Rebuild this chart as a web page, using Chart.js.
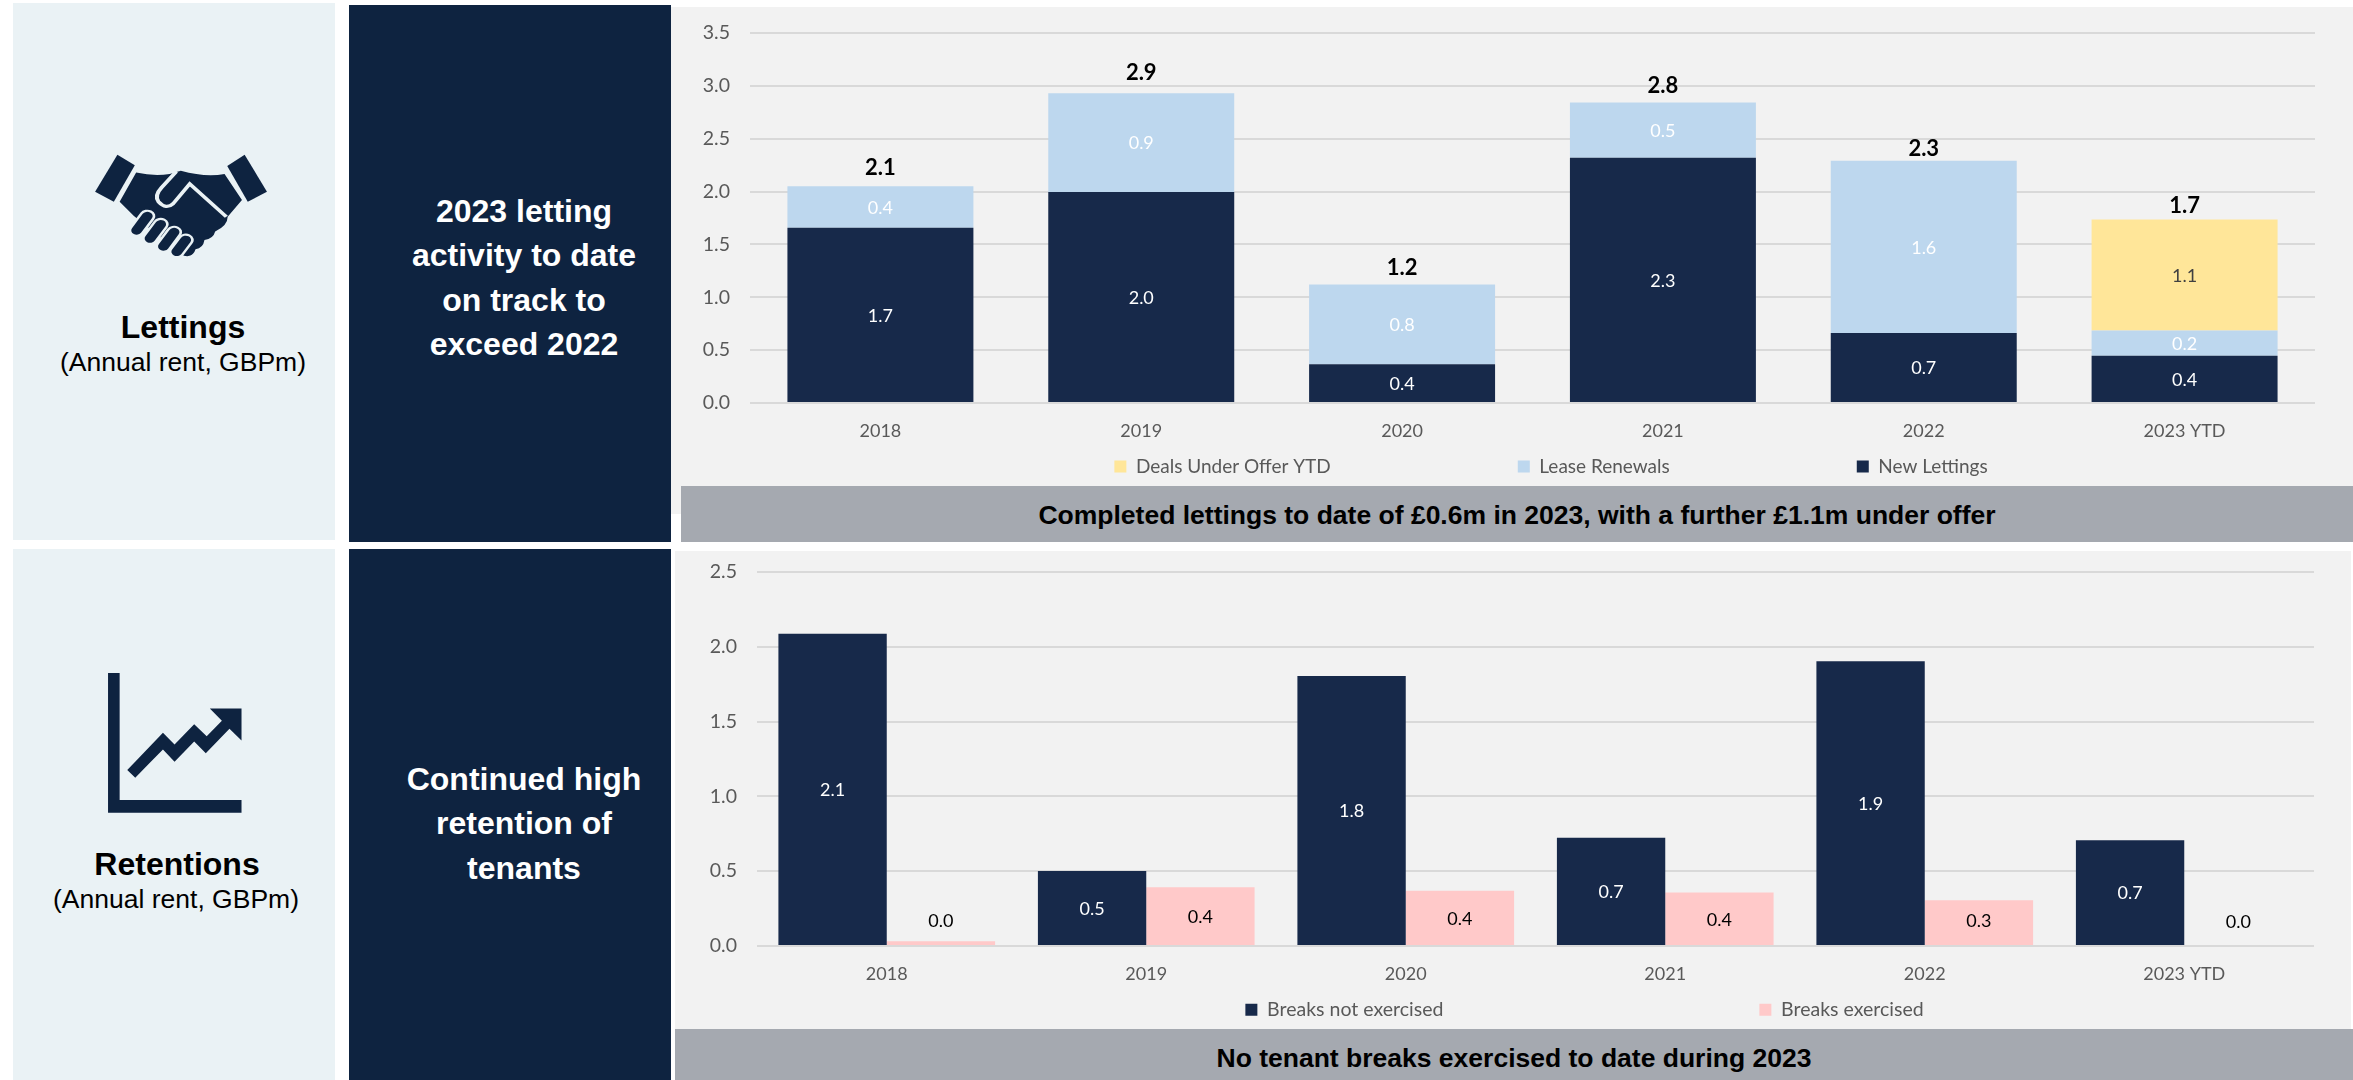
<!DOCTYPE html>
<html>
<head>
<meta charset="utf-8">
<title>Lettings and retentions</title>
<script src="https://cdn.jsdelivr.net/npm/chart.js@4"></script>
<style>
    html, body { margin: 0; background: #fff; }
    body { position: relative; width: 2353px; height: 1080px; overflow: hidden; font-family: "Liberation Sans", Arial, sans-serif; }
    .box { position: absolute; }
    .side { background: #eaf2f5; left: 13px; width: 322px; }
    .dark { background: #0e2340; left: 349px; width: 322px; }
    .plotbg { background: #f2f2f2; }
    .strip { background: #a5a9b0; color: #000; font-weight: bold; font-size: 26.5px; text-align: center; }
    .line { position: absolute; white-space: nowrap; transform: translate(-50%, -50%); }
    .big { font-size: 32px; font-weight: bold; }
    .sub { font-size: 26.5px; }
    .msg { font-size: 32px; font-weight: bold; color: #fff; }
    canvas { position: absolute; }
    svg { position: absolute; }
</style>
</head>
<body>
    <div class="box side" style="top:3px;height:537px"></div>
    <div class="box dark" style="top:5px;height:537px"></div>
    <div class="box plotbg" style="left:671px;top:7px;width:1682px;height:507px"></div>

    <div class="box side" style="top:549px;height:531px"></div>
    <div class="box dark" style="top:549px;height:531px"></div>
    <div class="box plotbg" style="left:675px;top:551px;width:1676px;height:529px"></div>

    <!-- handshake icon -->
    <svg style="left:0;top:0" width="700" height="560" viewBox="0 0 1568 1568" preserveAspectRatio="none">
        <g fill="#0e2340">
            <polygon points="263,433 302,463 255,565 213,537"/>
            <polygon points="548,433 598,537 555,565 509,465"/>
            <path d="M305,483 Q345,494 380,487 L405,478 Q460,497 503,487 L542,560 L510,607 Q510,632 482,648 Q478,668 458,672 Q455,695 438,698 Q432,722 412,716 L300,605 L268,565 Z"/>
        </g>
        <g fill="none" stroke="#eaf2f5">
            <path d="M507,607 L425,515 L388,570 Q372,588 355,565 Q345,548 362,525 L395,480" stroke-width="9"/>
            <g stroke-linecap="round" stroke-width="36">
                <path d="M306,645 L330,605"/>
                <path d="M336,668 L360,628"/>
                <path d="M366,690 L390,650"/>
                <path d="M396,705 L416,672"/>
            </g>
        </g>
        <g fill="none" stroke="#0e2340" stroke-linecap="round" stroke-width="24">
            <path d="M306,645 L330,605"/>
            <path d="M336,668 L360,628"/>
            <path d="M366,690 L390,650"/>
            <path d="M396,705 L416,672"/>
        </g>
    </svg>
    <!-- trend icon -->
    <svg style="left:0;top:540px" width="700" height="540" viewBox="0 0 1568 1568" preserveAspectRatio="none">
        <g fill="#0e2340">
            <polygon points="242,386 268,386 268,755 541,755 541,792 242,792"/>
            <polygon points="285,668 365,560 391,594 435,535 463,570 497,525 470,489 541,489 541,582 514,548 461,619 435,585 391,644 365,608 303,690"/>
        </g>
    </svg>

    <div class="line big" style="left:183px;top:327px">Lettings</div>
    <div class="line sub" style="left:183px;top:362px">(Annual rent, GBPm)</div>
    <div class="line big" style="left:177px;top:864px">Retentions</div>
    <div class="line sub" style="left:176px;top:899px">(Annual rent, GBPm)</div>

    <div class="line msg" style="left:524px;top:211px">2023 letting</div>
    <div class="line msg" style="left:524px;top:255px">activity to date</div>
    <div class="line msg" style="left:524px;top:300px">on track to</div>
    <div class="line msg" style="left:524px;top:344px">exceed 2022</div>
    <div class="line msg" style="left:524px;top:779px">Continued high</div>
    <div class="line msg" style="left:524px;top:823px">retention of</div>
    <div class="line msg" style="left:524px;top:868px">tenants</div>

    <canvas id="lettingsChart" width="1682" height="479" style="left:671px;top:7px"></canvas>
    <canvas id="retentionsChart" width="1676" height="478" style="left:675px;top:551px"></canvas>

    <div class="box strip" style="left:681px;top:486px;width:1672px;height:56px;line-height:58px">Completed lettings to date of £0.6m in 2023, with a further £1.1m under offer</div>
    <div class="box strip" style="left:675px;top:1029px;width:1678px;height:51px;line-height:58px">No tenant breaks exercised to date during 2023</div>

<script>
const years = ['2018', '2019', '2020', '2021', '2022', '2023 YTD'];

// Lettings (GBPm)
const newLettings = [1.657, 1.996, 0.366, 2.321, 0.661, 0.447];
const leaseRenewals = [0.393, 0.935, 0.756, 0.522, 1.63, 0.238];
const dealsUnderOffer = [null, null, null, null, null, 1.05];
const lettingsTotals = [2.1, 2.9, 1.2, 2.8, 2.3, 1.7];

// Retentions (GBPm)
const breaksNotExercised = [2.088, 0.501, 1.804, 0.723, 1.903, 0.707];
const breaksExercised = [0.032, 0.393, 0.37, 0.358, 0.305, 0];

const lettingsTicks = { max: 3.5 };
const retentionsTicks = { max: 2.5 };

const NAVY = '#17294a';
const LIGHT_BLUE = '#bdd7ee';
const YELLOW = '#ffe699';
const PINK = '#ffc9c9';
const TEXT_GREY = '#595959';
const FONT = 'Lato';

// how far the bold totals sit above each stack
const totalLift = [18, 20, 16, 17, 12, 14];

// values inside the bars, plus totals over the stacks
const barLabels = {
    id: 'barLabels',
    afterDatasetsDraw(chart, args, opts) {
        const ctx = chart.ctx;
        ctx.save();
        ctx.textAlign = 'center';
        ctx.textBaseline = 'middle';
        ctx.font = '18px ' + FONT;
        chart.data.datasets.forEach((ds, i) => {
            chart.getDatasetMeta(i).data.forEach((bar, j) => {
                if (ds.data[j] === null) return;
                let y = (bar.y + bar.base) / 2 + 1;
                if (opts.minLift) y = Math.min(y, bar.base - opts.minLift);
                ctx.fillStyle = ds.labelColor;
                ctx.fillText(ds.data[j].toFixed(1), bar.x, y);
            });
        });
        if (opts.totals) {
            ctx.font = 'bold 22px ' + FONT;
            ctx.fillStyle = '#000';
            opts.totals.forEach((total, j) => {
                let top = Infinity;
                chart.data.datasets.forEach((ds, i) => {
                    if (ds.data[j] !== null) top = Math.min(top, chart.getDatasetMeta(i).data[j].y);
                });
                ctx.fillText(total.toFixed(1), chart.getDatasetMeta(0).data[j].x, top - totalLift[j]);
            });
        }
        ctx.restore();
    }
};

// the legend gaps are very wide, so its box is capped and moved by hand
const placeLegend = {
    id: 'placeLegend',
    afterLayout(chart, args, opts) {
        const legend = chart.legend;
        legend.left += opts.shift;
        legend.top = opts.top - legend.options.labels.padding;
    }
};

function createBarChart(elementId, datasets, settings) {
    return new Chart(document.getElementById(elementId), {
        type: 'bar',
        data: { labels: years, datasets: datasets },
        plugins: [barLabels, placeLegend],
        options: {
            responsive: false,
            animation: false,
            layout: { padding: { top: settings.top, right: settings.right } },
            scales: {
                x: {
                    stacked: settings.stacked,
                    grid: { display: false },
                    border: { display: false },
                    ticks: { color: TEXT_GREY, font: { family: FONT, size: 18 }, padding: 9 },
                    afterFit: scale => { scale.height = 40; }
                },
                y: {
                    stacked: settings.stacked,
                    min: 0,
                    max: settings.max,
                    // invisible tick marks make the label gap: ticks.padding would also pad the top of the axis
                    grid: { color: '#d9d9d9', lineWidth: 2, tickLength: 20, tickColor: 'transparent' },
                    border: { display: false },
                    ticks: {
                        stepSize: 0.5,
                        padding: 0,
                        color: TEXT_GREY,
                        font: { family: FONT, size: 19.5 },
                        callback: value => value.toFixed(1)
                    },
                    afterFit: scale => { scale.width = settings.axisWidth; }
                }
            },
            plugins: {
                tooltip: { enabled: false },
                legend: {
                    position: 'bottom',
                    reverse: settings.stacked,
                    maxHeight: settings.legendHeight,
                    labels: {
                        boxWidth: 12,
                        boxHeight: 12,
                        padding: settings.legendGap,
                        color: TEXT_GREY,
                        font: { family: FONT, size: settings.legendFont }
                    }
                },
                barLabels: { totals: settings.totals, minLift: settings.minLift },
                placeLegend: { shift: settings.legendShift, top: settings.legendTop }
            }
        }
    });
}

createBarChart('lettingsChart', [
    { label: 'New Lettings', data: newLettings, backgroundColor: NAVY, labelColor: '#fff', barPercentage: 0.713, categoryPercentage: 1 },
    { label: 'Lease Renewals', data: leaseRenewals, backgroundColor: LIGHT_BLUE, labelColor: '#fff', barPercentage: 0.713, categoryPercentage: 1 },
    { label: 'Deals Under Offer YTD', data: dealsUnderOffer, backgroundColor: YELLOW, labelColor: '#404040', barPercentage: 0.713, categoryPercentage: 1 }
], {
    stacked: true, max: lettingsTicks.max, top: 26, right: 38, axisWidth: 79,
    legendHeight: 43, legendGap: 187, legendFont: 19, legendShift: 116, legendTop: 450,
    totals: lettingsTotals
});

createBarChart('retentionsChart', [
    { label: 'Breaks not exercised', data: breaksNotExercised, backgroundColor: NAVY, labelColor: '#fff', barPercentage: 1, categoryPercentage: 0.835 },
    { label: 'Breaks exercised', data: breaksExercised, backgroundColor: PINK, labelColor: '#000', barPercentage: 1, categoryPercentage: 0.835 }
], {
    stacked: false, max: retentionsTicks.max, top: 21, right: 37, axisWidth: 82,
    legendHeight: 43, legendGap: 316, legendFont: 19.5, legendShift: 180, legendTop: 449,
    minLift: 24
});
</script>
</body>
</html>
